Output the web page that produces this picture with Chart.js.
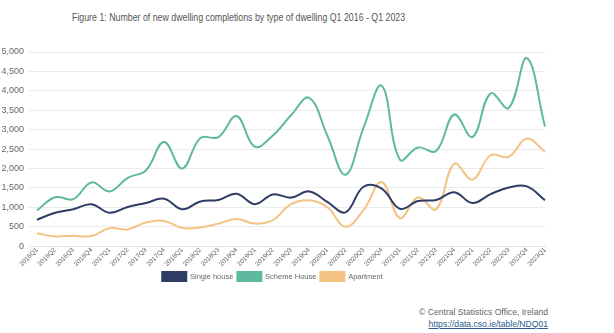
<!DOCTYPE html>
<html>
<head>
<meta charset="utf-8">
<script src="https://cdn.jsdelivr.net/npm/chart.js@4"></script>
<style>
    body { margin: 0; background: #fff; font-family: 'Liberation Sans', Arial, sans-serif; }
    #wrap { position: relative; width: 614px; height: 333px; overflow: hidden; }
    #title { position: absolute; left: 72px; top: 11px; font-size: 11px; color: #555; white-space: nowrap; transform: scaleX(0.8); transform-origin: left top; }
    #box { position: absolute; left: 0; top: 36px; width: 560px; height: 255px; }
    #src { position: absolute; right: 66px; top: 306px; font-size: 8.6px; color: #666; text-align: right; line-height: 12px; }
    #src a { color: #2a5a8a; }
</style>
</head>
<body>
<div id="wrap">
    <div id="title">Figure 1: Number of new dwelling completions by type of dwelling Q1 2016 - Q1 2023</div>
    <div id="box"><canvas id="completionsChart"></canvas></div>
    <div id="src">© Central Statistics Office, Ireland<br><a href="#">https://data.cso.ie/table/NDQ01</a></div>
</div>
<script>
// quarters Q1 2016 - Q1 2023
const quarters = [
    '2016Q1', '2016Q2', '2016Q3', '2016Q4',
    '2017Q1', '2017Q2', '2017Q3', '2017Q4',
    '2018Q1', '2018Q2', '2018Q3', '2018Q4',
    '2019Q1', '2019Q2', '2019Q3', '2019Q4',
    '2020Q1', '2020Q2', '2020Q3', '2020Q4',
    '2021Q1', '2021Q2', '2021Q3', '2021Q4',
    '2022Q1', '2022Q2', '2022Q3', '2022Q4',
    '2023Q1'
];

const singleHouse = [
    680, 860, 950, 1080,
    860, 1010, 1110, 1220,
    950, 1150, 1190, 1350,
    1080, 1330, 1250, 1410,
    1140, 870, 1530, 1480,
    960, 1160, 1190, 1390,
    1110, 1340, 1510, 1540,
    1180
];

const schemeHouse = [
    920, 1260, 1210, 1640,
    1410, 1760, 1950, 2680,
    2000, 2780, 2810, 3350,
    2560, 2850, 3370, 3820,
    2850, 1840, 3050, 4130,
    2230, 2540, 2450, 3390,
    2810, 3930, 3560, 4840,
    3080
];

const apartment = [
    330, 250, 270, 260,
    460, 430, 610, 650,
    470, 480, 580, 700,
    580, 670, 1080, 1180,
    1000, 500, 930, 1650,
    720, 1260, 950, 2120,
    1710, 2340, 2300, 2770,
    2430
];

const yMax = 5000;
const yStep = 500;

function makeLine(label, data, color) {
    return {
        label: label,
        data: data,
        borderColor: color,
        backgroundColor: color,
        borderWidth: 2,
        tension: 0.4,
        pointRadius: 0,
        fill: false
    };
}

const ctx = document.getElementById('completionsChart');
new Chart(ctx, {
    type: 'line',
    data: {
        labels: quarters,
        datasets: [
            makeLine('Single house', singleHouse, '#2f3d66'),
            makeLine('Scheme House', schemeHouse, '#5fb9a1'),
            makeLine('Apartment', apartment, '#f3c384')
        ]
    },
    options: {
        responsive: true,
        maintainAspectRatio: false,
        animation: false,
        layout: {
            padding: { top: 16, right: 15, left: 0, bottom: 0 }
        },
        plugins: {
            legend: {
                position: 'bottom',
                labels: {
                    boxWidth: 24,
                    boxHeight: 9,
                    padding: 4,
                    color: '#666',
                    font: { size: 7.5, family: 'Liberation Sans' }
                }
            },
            tooltip: { enabled: false }
        },
        scales: {
            y: {
                min: 0,
                max: yMax,
                afterFit: function(scale) {
                    scale.width = 37;
                },
                ticks: {
                    stepSize: yStep,
                    color: '#666',
                    padding: 5,
                    font: { size: 9, family: 'Liberation Sans' },
                    callback: function(value) {
                        return value.toLocaleString('en-US');
                    }
                },
                grid: {
                    color: '#ebebeb'
                },
                border: { display: false }
            },
            x: {
                grid: {
                    display: false,
                    drawTicks: false
                },
                border: { color: '#e0e0e0' },
                ticks: {
                    maxRotation: 45,
                    minRotation: 45,
                    color: '#666',
                    padding: 0,
                    font: { size: 6.5, family: 'Liberation Sans' }
                }
            }
        }
    }
});
</script>
</body>
</html>
